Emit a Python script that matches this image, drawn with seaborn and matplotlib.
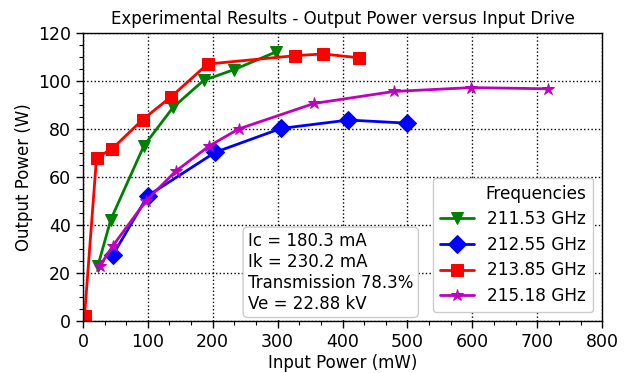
import matplotlib
matplotlib.use("Agg")
import matplotlib.pyplot as plt
import seaborn as sns
from matplotlib.ticker import AutoMinorLocator

sns.set_style("white")
plt.rcParams['font.family'] = ['DejaVu Sans']
plt.rcParams.update({'text.color': 'black', 'axes.labelcolor': 'black',
                     'xtick.color': 'black', 'ytick.color': 'black'})

# input power (mW) / output power (W) per frequency
f211_x = [23, 43, 94, 139, 186, 233, 297]
f211_y = [22.9, 42.3, 73.0, 89.0, 100.2, 104.7, 112.0]

f212_x = [46, 100, 204, 305, 409, 500]
f212_y = [27.5, 52.2, 70.3, 80.2, 83.7, 82.4]

f213_x = [2.5, 21, 45, 92, 136, 192, 327, 370, 426]
f213_y = [2.0, 68.0, 71.7, 83.9, 93.4, 107.0, 110.5, 111.2, 109.6]

f215_x = [26, 46, 97, 143, 194, 240, 356, 479, 598, 717]
f215_y = [22.9, 31.3, 50.0, 62.4, 72.8, 80.0, 90.6, 95.6, 97.2, 96.7]

labels = ['211.53 GHz', '212.55 GHz', '213.85 GHz', '215.18 GHz']
colors = ['green', 'blue', 'red', 'm']
markers = ['v', 'D', 's', '*']
sizes = [9, 9, 8, 9]

fig, ax = plt.subplots(figsize=(6.28, 3.73), dpi=100)

series = [(f211_x, f211_y), (f212_x, f212_y), (f213_x, f213_y), (f215_x, f215_y)]
for (xs, ys), label, color, marker, ms in zip(series, labels, colors, markers, sizes):
    sns.lineplot(x=xs, y=ys, ax=ax, sort=False, color=color, marker=marker,
                 markersize=ms, markeredgecolor=color, linewidth=2, label=label)

ax.set_xlim(0, 800)
ax.set_ylim(0, 120)
ax.xaxis.set_minor_locator(AutoMinorLocator(3))
ax.yaxis.set_minor_locator(AutoMinorLocator(4))
ax.tick_params(which='major', direction='out', length=5, width=1, labelsize=12.5,
               bottom=True, left=True, top=False, right=False)
ax.tick_params(which='minor', direction='out', length=3, width=0.8,
               bottom=True, left=True, top=False, right=False)
ax.grid(True, which='major', color='black', linestyle=':', linewidth=1)
for sp in ax.spines.values():
    sp.set_color('black')
    sp.set_linewidth(1)

ax.set_title('Experimental Results - Output Power versus Input Drive', fontsize=12)
ax.set_xlabel('Input Power (mW)', fontsize=12, labelpad=2)
ax.set_ylabel('Output Power (W)', fontsize=12)

ax.legend(title='Frequencies', loc='lower right', fontsize=12.2, title_fontsize=12.2,
          fancybox=True, framealpha=1, edgecolor='#cccccc', handlelength=2,
          labelspacing=0.45, borderaxespad=0.55, alignment='right')

ax.text(0.318, 0.03, 'Ic = 180.3 mA\nIk = 230.2 mA\nTransmission 78.3%\nVe = 22.88 kV',
        transform=ax.transAxes, fontsize=12, va='bottom', ha='left',
        bbox=dict(boxstyle='round,pad=0.3', facecolor='white', edgecolor='#cccccc'))

fig.subplots_adjust(left=0.132, right=0.959, top=0.912, bottom=0.139)
fig.savefig('out.png', dpi=100)
